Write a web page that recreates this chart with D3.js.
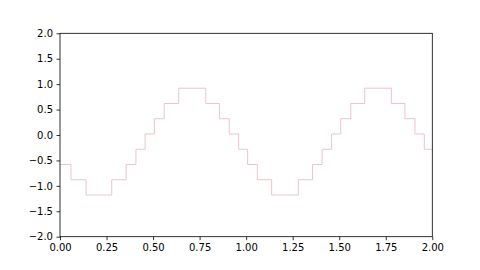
<!DOCTYPE html>
<html>
<head>
<meta charset="utf-8">
<script src="https://cdn.jsdelivr.net/npm/d3@7"></script>
<style>
  body { margin: 0; background: #fff; }
  .axis text { font-family: "DejaVu Sans", sans-serif; font-size: 10px; fill: #000; }
  .axis path, .axis line { stroke: #000; stroke-width: 0.8; }
</style>
</head>
<body>
<div id="chart"></div>
<script>
// step edges (x where a new level starts) and the level held after it
var stepX = [0.0, 0.059, 0.14, 0.278, 0.355, 0.408, 0.457, 0.507, 0.56, 0.638,
             0.783, 0.856, 0.909, 0.96, 1.008, 1.06, 1.137, 1.28, 1.357, 1.408,
             1.459, 1.508, 1.562, 1.637, 1.78, 1.853, 1.907, 1.957, 2.0];
var stepY = [-0.58, -0.88, -1.18, -0.88, -0.58, -0.28, 0.02, 0.32, 0.62, 0.92,
             0.62, 0.32, 0.02, -0.28, -0.58, -0.88, -1.18, -0.88, -0.58, -0.28,
             0.02, 0.32, 0.62, 0.92, 0.62, 0.32, 0.02, -0.28, -0.28];
var xTicks = [0, 0.25, 0.5, 0.75, 1.0, 1.25, 1.5, 1.75, 2.0];
var yTicks = [-2.0, -1.5, -1.0, -0.5, 0.0, 0.5, 1.0, 1.5, 2.0];

var W = 480, H = 270;
var margin = {top: 33.3, right: 47.7, bottom: 33.3, left: 60},
    width = W - margin.left - margin.right,
    height = H - margin.top - margin.bottom;

var x = d3.scaleLinear().domain([0, 2]).range([0, width]);
var y = d3.scaleLinear().domain([-2, 2]).range([height, 0]);

var svg = d3.select("#chart").append("svg")
    .attr("width", W)
    .attr("height", H);

var g = svg.append("g")
    .attr("transform", "translate(" + margin.left + "," + margin.top + ")");

var data = stepX.map(function(v, i) { return [v, stepY[i]]; });

var line = d3.line()
    .x(function(d) { return x(d[0]); })
    .y(function(d) { return y(d[1]); })
    .curve(d3.curveStepAfter);

g.append("path")
    .datum(data)
    .attr("fill", "none")
    .attr("stroke", "#eec3c9")
    .attr("stroke-width", 1)
    .attr("d", line);

var fmtMinus = function(s) { return s.replace("-", "\u2212"); };

g.append("g")
    .attr("class", "axis")
    .attr("transform", "translate(0," + height + ")")
    .call(d3.axisBottom(x).tickValues(xTicks).tickSize(3.5).tickPadding(3.5)
      .tickFormat(function(d) { return d3.format(".2f")(d); }))
    .call(function(a) { a.select(".domain").remove(); });

g.append("g")
    .attr("class", "axis")
    .call(d3.axisLeft(y).tickValues(yTicks).tickSize(3.5).tickPadding(3.5)
      .tickFormat(function(d) { return fmtMinus(d3.format(".1f")(d)); }))
    .call(function(a) { a.select(".domain").remove(); });

// frame (spines)
g.append("rect")
    .attr("x", 0).attr("y", 0)
    .attr("width", width).attr("height", height)
    .attr("fill", "none")
    .attr("stroke", "#000")
    .attr("stroke-width", 0.8);
</script>
</body>
</html>
